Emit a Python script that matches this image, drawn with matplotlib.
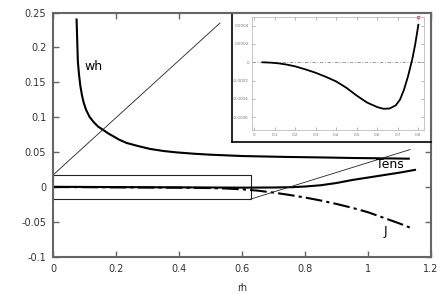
from matplotlib import pyplot as plt
from matplotlib.patches import Rectangle

# main curves
wh_x = [0.074, 0.076, 0.078, 0.082, 0.086, 0.091, 0.096, 0.104, 0.115, 0.127, 0.142, 0.159,
        0.175, 0.191, 0.21, 0.233, 0.27, 0.307, 0.35, 0.392, 0.45, 0.5, 0.6, 0.74, 0.85, 0.95, 1.05, 1.13]
wh_y = [0.240, 0.210, 0.180, 0.160, 0.145, 0.132, 0.122, 0.111, 0.101, 0.094, 0.087, 0.082,
        0.077, 0.073, 0.068, 0.0635, 0.059, 0.055, 0.052, 0.050, 0.048, 0.0467, 0.0448, 0.0435,
        0.0428, 0.042, 0.0415, 0.041]

tens_x = [0.0, 0.1, 0.2, 0.3, 0.4, 0.5, 0.6, 0.7, 0.76, 0.8, 0.85, 0.9, 0.95, 1.0, 1.05, 1.1, 1.15]
tens_y = [0.0008, 0.0006, 0.0004, 0.0002, 0.0, -0.0002, -0.0004, -0.0002, 0.0003, 0.0012, 0.003,
          0.0062, 0.0105, 0.014, 0.0175, 0.021, 0.025]

j_x = [0.0, 0.2, 0.4, 0.5, 0.55, 0.6, 0.65, 0.7, 0.75, 0.8, 0.85, 0.9, 0.95, 1.0, 1.05, 1.1, 1.145]
j_y = [0.0005, 0.0, -0.0005, -0.001, -0.0017, -0.0028, -0.0047, -0.0075, -0.0108, -0.0145, -0.0188,
       -0.0237, -0.0292, -0.0355, -0.0435, -0.0515, -0.0595]

# zoom box and the two thin guide lines
box_x = [0.0, 0.628]
box_y = [-0.0167, 0.018]
guide1_x = [0.0, 0.53]
guide1_y = [0.018, 0.235]
guide2_x = [0.628, 1.134]
guide2_y = [-0.0167, 0.054]

xticks = [0, 0.2, 0.4, 0.6, 0.8, 1.0, 1.2]
xtick_labels = ["0", "0.2", "0.4", "0.6", "0.8", "1", "1.2"]
yticks = [-0.1, -0.05, 0, 0.05, 0.1, 0.15, 0.2, 0.25]
ytick_labels = ["-0.1", "-0.05", "0", "0.05", "0.1", "0.15", "0.2", "0.25"]

# inset curve
ins_x = [0.04, 0.08, 0.12, 0.16, 0.2, 0.25, 0.3, 0.35, 0.4, 0.45, 0.5, 0.55, 0.6, 0.63, 0.66,
         0.69, 0.71, 0.73, 0.75, 0.77, 0.785, 0.8]
ins_y = [0.0, -0.000004, -0.000012, -0.000026, -0.000045, -0.000078, -0.000115, -0.00016, -0.00021,
         -0.00028, -0.000365, -0.00044, -0.00049, -0.000508, -0.000505, -0.00047, -0.00041, -0.0003,
         -0.00015, 0.00003, 0.0002, 0.00041]
ins_xticks = [0, 0.1, 0.2, 0.3, 0.4, 0.5, 0.6, 0.7, 0.8]
ins_xtick_labels = ["0", "0.1", "0.2", "0.3", "0.4", "0.5", "0.6", "0.7", "0.8"]
ins_yticks = [-0.0006, -0.0004, -0.0002, 0, 0.0002, 0.0004]
ins_ytick_labels = ["-0.0006", "-0.0004", "-0.0002", "0", "0.0002", "0.0004"]

spine_gray = "#666666"
text_gray = "#333333"

fig = plt.figure(figsize=(4.45, 2.95), dpi=100)
ax = fig.add_axes([0.1198, 0.1278, 0.8482, 0.8298])

ax.plot(wh_x, wh_y, color="black", lw=1.5)
ax.plot(tens_x, tens_y, color="black", lw=1.5)
ax.plot(j_x, j_y, color="black", lw=1.5, linestyle=(0, (8, 2, 1.5, 2)))
ax.plot(guide1_x, guide1_y, color="#222222", lw=0.6)
ax.plot(guide2_x, guide2_y, color="#222222", lw=0.6)
ax.add_patch(Rectangle((box_x[0], box_y[0]), box_x[1] - box_x[0], box_y[1] - box_y[0],
                       fill=False, edgecolor="#222222", lw=0.8))

ax.text(0.127, 0.173, "wh", fontsize=9, ha="center", va="center")
ax.text(1.07, 0.033, "Tens", fontsize=9, ha="center", va="center")
ax.text(1.057, -0.063, "J", fontsize=9, ha="center", va="center")

ax.set_xlim(0, 1.2)
ax.set_ylim(-0.1, 0.25)
ax.set_xticks(xticks)
ax.set_xticklabels(xtick_labels)
ax.set_yticks(yticks)
ax.set_yticklabels(ytick_labels)
ax.tick_params(direction="in", length=4, width=1, colors=spine_gray, labelcolor=text_gray,
               labelsize=7, top=True, right=True, pad=5)
ax.set_xlabel("rh", fontsize=7, color=text_gray, labelpad=6)
for s in ax.spines.values():
    s.set_color(spine_gray)
    s.set_linewidth(1.5)

# inset frame
frame = fig.add_axes([0.5213, 0.5186, 0.4465, 0.439])
frame.set_xticks([])
frame.set_yticks([])
frame.spines["left"].set_color("black")
frame.spines["bottom"].set_color("black")
frame.spines["left"].set_linewidth(1.2)
frame.spines["bottom"].set_linewidth(1.2)
frame.spines["top"].set_color(spine_gray)
frame.spines["right"].set_color(spine_gray)
frame.spines["top"].set_linewidth(1.5)
frame.spines["right"].set_linewidth(1.5)

inner = fig.add_axes([0.5656, 0.5593, 0.3872, 0.3847])
inner.axhline(0, color="#888888", lw=0.6, linestyle=(0, (4, 2, 1, 2)))
inner.plot(ins_x, ins_y, color="black", lw=1.3)
inner.plot([0.8], [0.0005], marker="s", ms=1.5, color="#e06060", clip_on=False)
inner.set_xlim(-0.0125, 0.8275)
inner.set_ylim(-0.00074, 0.0005)
inner.set_xticks(ins_xticks)
inner.set_xticklabels(ins_xtick_labels)
inner.set_yticks(ins_yticks)
inner.set_yticklabels(ins_ytick_labels)
inner.tick_params(direction="in", length=2, width=0.5, colors="#999999", labelcolor="#777777",
                  labelsize=3, top=True, right=True, pad=2)
for s in inner.spines.values():
    s.set_color("#bbbbbb")
    s.set_linewidth(0.6)

plt.savefig("out.png", dpi=100)
